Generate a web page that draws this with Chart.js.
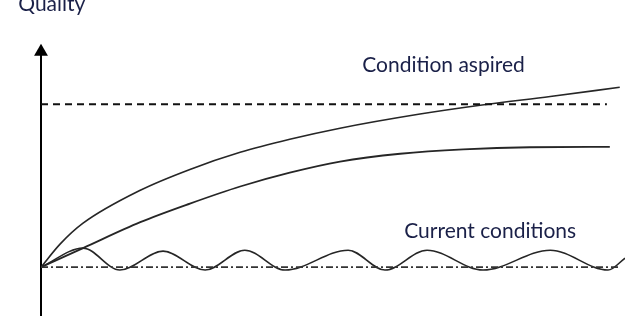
<!DOCTYPE html>
<html>
<head>
<meta charset="utf-8">
<script src="https://cdn.jsdelivr.net/npm/chart.js@4.4.1/dist/chart.umd.min.js"></script>
<style>
  html, body { margin: 0; padding: 0; background: #fff; }
  #wrap { width: 627px; height: 316px; position: relative; }
</style>
</head>
<body>
<div id="wrap"><canvas id="chart"></canvas></div>
<script>
// Time runs 0..100, quality 0 = current level, 100 = aspired level
const aspiredX = [0, 96.9];
const aspiredY = [100, 100];

const currentX = [0, 99.1];
const currentY = [0, 0];

const upperX = [0, 3.3, 7.2, 17, 25.5, 34.1, 42.6, 51.2, 64.9, 75.2, 87.2, 99.1];
const upperY = [0, 14.3, 27, 47.2, 60, 70.5, 78.5, 85.3, 94, 99.4, 104.8, 110.4];

const lowerX = [0, 7.2, 17, 25.5, 34.1, 42.6, 51.2, 61.5, 72.3, 83.7, 97.4];
const lowerY = [0, 11.7, 27.6, 39, 49.5, 58, 64.8, 69.6, 72.3, 73.6, 73.8];

const waveX = [0, 7.2, 13.5, 20.9, 28.1, 34.9, 41.8, 52.6, 58.9, 66.1, 75.7, 87.2, 97.1, 100];
const waveY = [0, 11.7, -1.8, 9.8, -1.8, 10.4, -1.8, 10.4, -1.8, 10.4, -1.8, 10.4, -1.8, 5.5];

const axisY = [-30, 132.2];

const labels = [
  { text: 'Quality', x: -3.9, y: 157.2 },
  { text: 'Condition aspired', x: 55, y: 119.6 },
  { text: 'Current conditions', x: 62.2, y: 17.6 }
];

function toPoints(xs, ys) {
  return xs.map((x, i) => ({ x: x, y: ys[i] }));
}

const textPlugin = {
  id: 'textLabels',
  afterDraw(chart) {
    const ctx = chart.ctx;
    const sx = chart.scales.x;
    const sy = chart.scales.y;
    ctx.save();
    ctx.font = '21px Lato';
    ctx.fillStyle = '#1a2048';
    ctx.textBaseline = 'alphabetic';
    labels.forEach(l => {
      ctx.fillText(l.text, sx.getPixelForValue(l.x), sy.getPixelForValue(l.y));
    });
    ctx.restore();
  }
};

const lineColor = '#262626';

new Chart(document.getElementById('chart'), {
  type: 'line',
  data: {
    datasets: [
      {
        data: toPoints(aspiredX, aspiredY),
        borderColor: '#111',
        borderWidth: 2,
        borderDash: [7, 5]
      },
      {
        data: toPoints(currentX, currentY),
        borderColor: '#333',
        borderWidth: 1.6,
        borderDash: [7, 3, 2, 3]
      },
      {
        data: toPoints(upperX, upperY),
        borderColor: lineColor,
        borderWidth: 1.6,
        cubicInterpolationMode: 'monotone'
      },
      {
        data: toPoints(lowerX, lowerY),
        borderColor: lineColor,
        borderWidth: 1.8,
        cubicInterpolationMode: 'monotone'
      },
      {
        data: toPoints(waveX, waveY),
        borderColor: lineColor,
        borderWidth: 1.6,
        cubicInterpolationMode: 'monotone'
      },
      {
        // vertical quality axis with arrow head
        data: axisY.map(y => ({ x: 0, y: y })),
        borderColor: '#000',
        borderWidth: 2,
        clip: false,
        pointStyle: 'triangle',
        pointRadius: [0, 8],
        pointBackgroundColor: '#000',
        pointBorderColor: '#000',
        pointBorderWidth: 0
      }
    ]
  },
  options: {
    responsive: true,
    maintainAspectRatio: false,
    animation: false,
    layout: { autoPadding: false, padding: { left: 41, right: 2, top: 0, bottom: 0 } },
    elements: { point: { radius: 0 } },
    scales: {
      x: { type: 'linear', min: 0, max: 100, display: false },
      y: { min: -30, max: 164, display: false }
    },
    plugins: {
      legend: { display: false },
      tooltip: { enabled: false }
    }
  },
  plugins: [textPlugin]
});
</script>
</body>
</html>
